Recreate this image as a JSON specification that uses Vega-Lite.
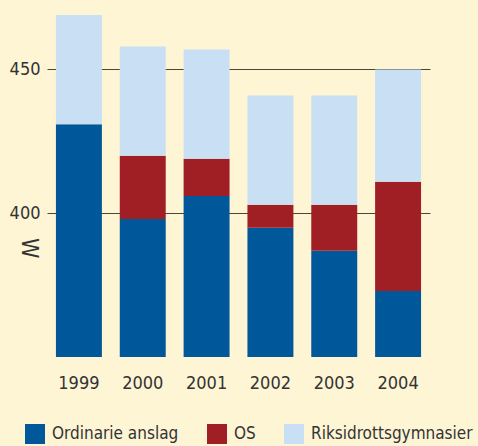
{
  "$schema": "https://vega.github.io/schema/vega-lite/v6.json",
  "width": 383,
  "height": 345,
  "autosize": {"type": "none"},
  "padding": {"left": 47, "top": 12, "right": 48, "bottom": 89},
  "background": "#fef5d5",
  "config": {
    "view": {"stroke": null},
    "font": "DejaVu Sans Condensed, DejaVu Sans"
  },
  "data": {
    "values": [
      {"year": "1999", "type": "Ordinarie anslag", "o": 1, "value": 431},
      {"year": "1999", "type": "OS", "o": 2, "value": 0},
      {"year": "1999", "type": "Riksidrottsgymnasier", "o": 3, "value": 38},
      {"year": "2000", "type": "Ordinarie anslag", "o": 1, "value": 398},
      {"year": "2000", "type": "OS", "o": 2, "value": 22},
      {"year": "2000", "type": "Riksidrottsgymnasier", "o": 3, "value": 38},
      {"year": "2001", "type": "Ordinarie anslag", "o": 1, "value": 406},
      {"year": "2001", "type": "OS", "o": 2, "value": 13},
      {"year": "2001", "type": "Riksidrottsgymnasier", "o": 3, "value": 38},
      {"year": "2002", "type": "Ordinarie anslag", "o": 1, "value": 395},
      {"year": "2002", "type": "OS", "o": 2, "value": 8},
      {"year": "2002", "type": "Riksidrottsgymnasier", "o": 3, "value": 38},
      {"year": "2003", "type": "Ordinarie anslag", "o": 1, "value": 387},
      {"year": "2003", "type": "OS", "o": 2, "value": 16},
      {"year": "2003", "type": "Riksidrottsgymnasier", "o": 3, "value": 38},
      {"year": "2004", "type": "Ordinarie anslag", "o": 1, "value": 373},
      {"year": "2004", "type": "OS", "o": 2, "value": 38},
      {"year": "2004", "type": "Riksidrottsgymnasier", "o": 3, "value": 39}
    ]
  },
  "encoding": {
    "x": {
      "field": "year",
      "type": "ordinal",
      "scale": {"paddingInner": 0.28, "paddingOuter": 0.14},
      "axis": {
        "title": null,
        "domain": false,
        "ticks": false,
        "tickSize": 0,
        "labelAngle": 0,
        "labelFontSize": 18,
        "labelColor": "#333333",
        "labelPadding": 26,
        "labelBaseline": "middle"
      }
    }
  },
  "layer": [
    {
      "mark": {"type": "bar", "clip": true},
      "encoding": {
        "y": {
          "field": "value",
          "type": "quantitative",
          "stack": "zero",
          "scale": {"domain": [350, 470], "nice": false, "zero": false},
          "axis": {
            "title": null,
            "orient": "left",
            "values": [400, 450],
            "domain": false,
            "ticks": false,
            "tickSize": 0,
            "labelPadding": 7,
            "labelFontSize": 18,
            "labelColor": "#333333",
            "grid": true,
            "gridColor": "#4a463d",
            "gridWidth": 1.2
          }
        },
        "color": {
          "field": "type",
          "type": "nominal",
          "scale": {
            "domain": ["Ordinarie anslag", "OS", "Riksidrottsgymnasier"],
            "range": ["#00589a", "#a01f24", "#c8dff4"]
          },
          "legend": {
            "title": null,
            "orient": "none",
            "direction": "horizontal",
            "legendX": -22,
            "legendY": 412,
            "symbolType": "square",
            "symbolSize": 400,
            "symbolStrokeWidth": 0,
            "symbolOpacity": 1,
            "labelFontSize": 17,
            "labelColor": "#333333",
            "labelOffset": 7,
            "columnPadding": 28,
            "labelLimit": 300
          }
        },
        "order": {"field": "o", "type": "quantitative"}
      }
    },
    {
      "mark": {"type": "bar", "clip": true, "opacity": 0},
      "encoding": {
        "y": {
          "field": "value",
          "type": "quantitative",
          "stack": "zero",
          "axis": {
            "title": null,
            "orient": "left",
            "values": [388],
            "labelExpr": "'W'",
            "labelAngle": 90,
            "labelAlign": "center",
            "labelBaseline": "middle",
            "domain": false,
            "ticks": false,
            "tickSize": 0,
            "grid": false,
            "labelPadding": 19,
            "labelFont": "DejaVu Sans ExtraLight, DejaVu Sans Condensed",
            "labelFontSize": 23,
            "labelColor": "#333333"
          }
        },
        "order": {"field": "o", "type": "quantitative"}
      }
    }
  ],
  "resolve": {"axis": {"y": "independent"}}
}
